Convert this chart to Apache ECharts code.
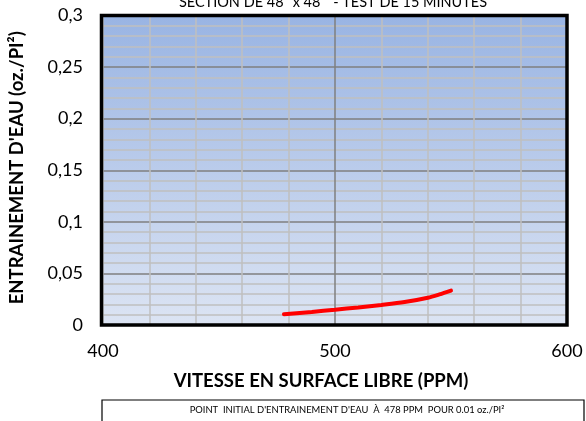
<!DOCTYPE html>
<html>
<head>
<meta charset="utf-8">
<script src="https://cdn.jsdelivr.net/npm/echarts@6/dist/echarts.min.js"></script>
<style>
  html, body { margin: 0; padding: 0; background: #fff; }
  #chart { width: 586px; height: 421px; }
</style>
</head>
<body>
<div id="chart"></div>
<script>
// courbe d'entrainement
var vitesse = [478, 490, 500, 510, 520, 530, 540, 545, 550];
var entrainement = [0.0105, 0.0127, 0.0148, 0.0170, 0.0194, 0.0222, 0.0264, 0.0296, 0.0333];
var titre = 'SECTION DE 48" x 48"  - TEST DE 15 MINUTES';
var note = "POINT  INITIAL D'ENTRAINEMENT D'EAU  À  478 PPM  POUR 0.01 oz./PI²";

var police = 'Lato, "Open Sans", sans-serif';
var xColors = [];
for (var i = 0; i < 10; i++) { xColors.push(i == 5 ? '#7f7f7f' : '#bfbfbf'); }
var yColors = ['#7f7f7f', '#bfbfbf', '#bfbfbf', '#bfbfbf', '#bfbfbf'];

var points = [];
for (var i = 0; i < vitesse.length; i++) { points.push([vitesse[i], entrainement[i]]); }

var gL = 101.5, gT = 15.5, gR = 19, gB = 96;

var chart = echarts.init(document.getElementById('chart'));
chart.setOption({
  animation: false,
  title: {
    text: titre,
    left: 328,
    textAlign: 'center',
    top: -10,
    textStyle: { fontFamily: police, fontSize: 14.5, fontWeight: 'normal', color: '#000' }
  },
  grid: {
    left: gL, right: gR, top: gT, bottom: gB,
    show: true,
    borderWidth: 0,
    backgroundColor: new echarts.graphic.LinearGradient(0, 0, 0, 1, [
      { offset: 0, color: '#99b4e3' },
      { offset: 1, color: '#dce4f3' }
    ])
  },
  xAxis: {
    type: 'value',
    min: 400, max: 600, interval: 20,
    name: 'VITESSE EN SURFACE LIBRE (PPM)',
    nameLocation: 'middle',
    nameGap: 47,
    nameTextStyle: { fontFamily: police, fontSize: 18.5, fontWeight: 'bold', color: '#000', padding: [0, 28, 0, 0] },
    axisLine: { show: false },
    axisTick: { show: false },
    axisLabel: {
      margin: 17,
      fontFamily: police, fontSize: 18, color: '#000',
      formatter: function (v) { return v % 100 == 0 ? String(v) : ''; }
    },
    splitLine: { show: true, lineStyle: { color: xColors, width: 1.5 } }
  },
  yAxis: {
    type: 'value',
    min: 0, max: 0.3, interval: 0.01,
    name: "ENTRAINEMENT D'EAU (oz./PI²)",
    nameLocation: 'middle',
    nameGap: 76,
    nameTextStyle: { fontFamily: police, fontSize: 18.5, fontWeight: 'bold', color: '#000', padding: [0, 0, 0, 5] },
    axisLine: { show: false },
    axisTick: { show: false },
    axisLabel: {
      margin: 20,
      fontFamily: police, fontSize: 18, color: '#000',
      formatter: function (v) {
        var n = Math.round(v * 100);
        if (n % 5 != 0) return '';
        return String(n / 100).replace('.', ',');
      }
    },
    splitLine: { show: true, lineStyle: { color: yColors, width: 1.5 } }
  },
  series: [{
    type: 'line',
    data: points,
    smooth: 0.3,
    showSymbol: false,
    lineStyle: { color: '#ff0000', width: 4, cap: 'round' }
  }],
  graphic: [{
    type: 'rect',
    z: 100,
    shape: { x: gL, y: gT, width: 586 - gL - gR, height: 421 - gT - gB },
    style: { fill: null, stroke: '#000', lineWidth: 3.5 }
  }, {
    type: 'rect',
    shape: { x: 102, y: 400, width: 482, height: 40 },
    style: { fill: '#fff', stroke: '#000', lineWidth: 1.2 }
  }, {
    type: 'text',
    x: 347, y: 410,
    style: {
      text: note,
      fontFamily: police, fontSize: 9.4, fill: '#000',
      textAlign: 'center', textVerticalAlign: 'middle'
    }
  }]
});
</script>
</body>
</html>
